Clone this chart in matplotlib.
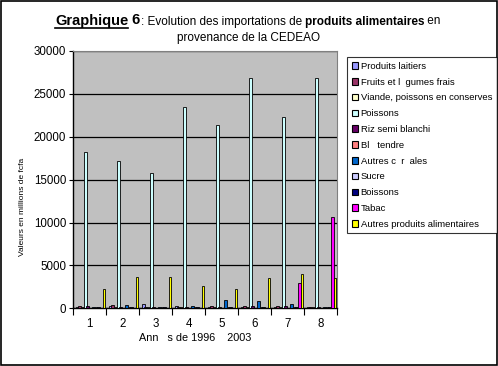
import numpy as np
import matplotlib.pyplot as plt
from matplotlib.lines import Line2D
from matplotlib.patches import Rectangle, Patch

plt.rcParams['font.family'] = ['Liberation Sans', 'DejaVu Sans']

years = ['1', '2', '3', '4', '5', '6', '7', '8']
series = ['Produits laitiers', 'Fruits et l  gumes frais', 'Viande, poissons en conserves',
          'Poissons', 'Riz semi blanchi', 'Bl   tendre', 'Autres c  r  ales', 'Sucre',
          'Boissons', 'Tabac', 'Autres produits alimentaires']
colors = ['#9999FF', '#993366', '#FFFFCC', '#CCFFFF', '#660066', '#FF8080',
          '#0066CC', '#CCCCFF', '#000080', '#FF00FF', '#FFFF00']

laitiers = [150, 300, 550, 300, 150, 150, 150, 100]
fruits = [300, 350, 100, 100, 300, 300, 300, 100]
viande = [100, 100, 100, 100, 100, 100, 100, 100]
poissons = [18200, 17200, 15800, 23500, 21400, 26900, 22300, 26900]
riz = [300, 150, 150, 150, 200, 300, 300, 100]
ble = [50, 50, 50, 50, 50, 50, 50, 50]
cereales = [150, 400, 100, 300, 1000, 800, 550, 100]
sucre = [150, 200, 150, 150, 150, 150, 150, 100]
boissons = [150, 150, 150, 150, 150, 150, 150, 100]
tabac = [0, 0, 0, 0, 0, 0, 3000, 10700]
autres = [2200, 3600, 3600, 2600, 2200, 3500, 3950, 3500]
values = [laitiers, fruits, viande, poissons, riz, ble, cereales, sucre, boissons, tabac, autres]

fig = plt.figure(figsize=(4.98, 3.66), dpi=100)
ax = fig.add_axes([73/498, 57.7/366, 264/498, 257.3/366])
ax.set_facecolor('#C0C0C0')

x = np.arange(len(years))
for j, (vals, c) in enumerate(zip(values, colors)):
    ax.bar(x + 0.085 + 0.081*j, vals, width=0.085, color=c, edgecolor='black',
           linewidth=0.6, align='edge', zorder=3)

ax.set_xlim(0, 8)
ax.set_ylim(0, 30000)
ax.set_yticks(np.arange(0, 30001, 5000))
ax.yaxis.grid(True, color='black', linewidth=0.9, zorder=1)
ax.set_xticks(np.arange(0, 9))
ax.set_xticklabels([])
ax.set_xticks(x + 0.5, minor=True)
ax.set_xticklabels(years, minor=True)
ax.tick_params(axis='x', which='major', length=5, width=0.8, direction='out')
ax.tick_params(axis='x', which='minor', length=0, pad=7, labelsize=8.3)
ax.tick_params(axis='y', length=3, width=0.8, labelsize=8.3, pad=2)
for s in ['top', 'right']:
    ax.spines[s].set_color('#808080')
ax.spines['left'].set_linewidth(1.0)
ax.spines['bottom'].set_linewidth(1.0)

fig.text(195/498, 1 - 338/366, 'Ann   s de 1996    2003', ha='center', va='center', fontsize=7.8)
fig.text(22/498, 1 - 207/366, 'Valeurs en millions de fcfa', rotation=90, ha='center', va='center',
         fontsize=6.0)

# title with mixed styles
fig.canvas.draw()
r = fig.canvas.get_renderer()
xpos = 55
ytit = 1 - 24.5/366
pieces = [('Graphique', 'bold', 10.5), (' 6', 'bold', 10.5),
          (': Evolution des importations de ', 'normal', 8.5),
          ('produits alimentaires', 'bold', 8.5), (' en', 'normal', 8.5)]
for i, (txt, w, fs) in enumerate(pieces):
    t = fig.text(xpos/498, ytit, txt, fontweight=w, fontsize=fs, ha='left', va='baseline')
    bb = t.get_window_extent(r)
    if i == 0:
        fig.add_artist(Line2D([xpos/498, (xpos + bb.width)/498], [1 - 27.5/366, 1 - 27.5/366],
                              color='black', linewidth=1.2, transform=fig.transFigure))
    xpos += bb.width
fig.text(248/498, 1 - 41.5/366, 'provenance de la CEDEAO', fontsize=8.5, ha='center', va='baseline')

handles = [Patch(facecolor=c, edgecolor='black', linewidth=0.8) for c in colors]
leg = fig.legend(handles, series, loc='upper left', bbox_to_anchor=(347/498, 1 - 57/366),
                 fontsize=6.8, frameon=True, fancybox=False, edgecolor='black',
                 handlelength=0.7, handleheight=0.7, handletextpad=0.25, labelspacing=0.72,
                 borderpad=0.5, borderaxespad=0)
leg.get_frame().set_linewidth(0.8)

fig.add_artist(Rectangle((0.002, 0.003), 0.995, 0.994, transform=fig.transFigure,
                         fill=False, edgecolor='black', linewidth=1.2))

fig.savefig('out.png', dpi=100)
